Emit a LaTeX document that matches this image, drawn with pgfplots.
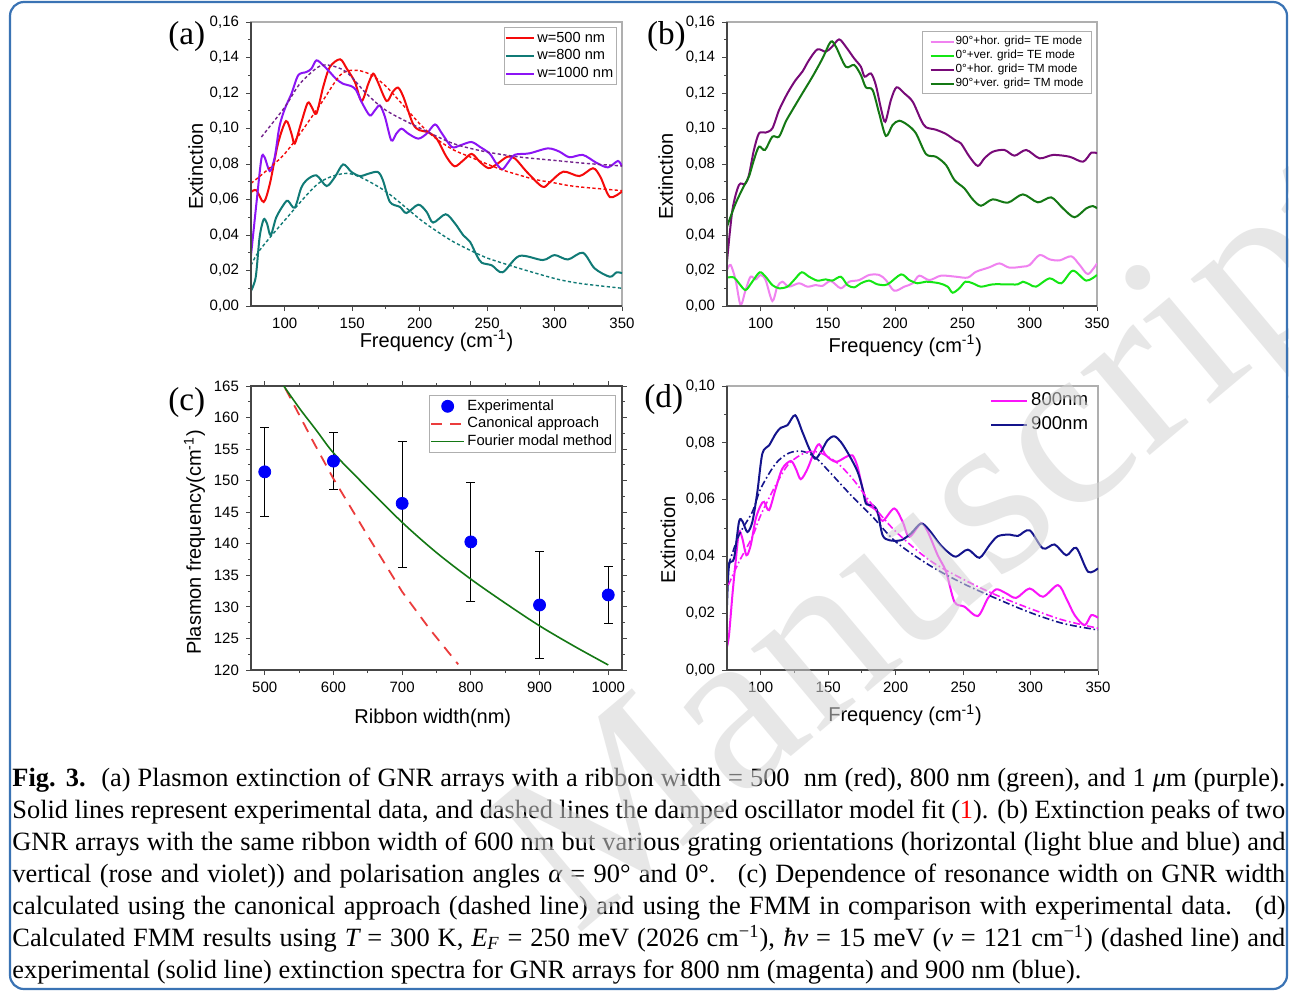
\documentclass[border=0pt]{standalone}
\usepackage{pgfplots}
\pgfplotsset{compat=1.18}
\usepackage{fontspec}
\setmainfont{Liberation Sans}
\newfontfamily\serif{Liberation Serif}
\definecolor{fblue}{RGB}{58,115,180}
\definecolor{cred}{RGB}{245,10,10}
\definecolor{cteal}{RGB}{16,122,118}
\definecolor{cviol}{RGB}{140,20,245}
\definecolor{cviold}{RGB}{115,35,140}
\definecolor{cpink}{RGB}{240,130,240}
\definecolor{cbgreen}{RGB}{20,230,20}
\definecolor{cdpurp}{RGB}{120,10,120}
\definecolor{cdgreen}{RGB}{20,120,20}
\definecolor{cblue}{RGB}{0,0,250}
\definecolor{cdred}{RGB}{235,60,60}
\definecolor{cmag}{RGB}{250,20,250}
\definecolor{cnavy}{RGB}{20,20,140}
\definecolor{axdark}{RGB}{70,70,70}
\definecolor{axlight}{RGB}{175,175,175}
\definecolor{wm}{RGB}{212,212,212}
\pgfplotsset{
  panel/.style={
    scale only axis, width=185.5pt, height=142pt, anchor=south west,
    axis line style={axlight, line width=0.6pt},
    tick align=outside, tick pos=left,
    major tick length=2.5pt, minor tick length=1.5pt,
    tick style={axdark, line width=0.5pt},
    tick label style={font=\fontsize{7.5}{9}\selectfont},
    label style={font=\fontsize{10}{12}\selectfont},
    /pgf/number format/assume math mode=true,
    legend cell align=left,
    after end axis/.code={\draw[axdark, line width=0.7pt] (rel axis cs:0,1) -- (rel axis cs:0,0) -- (rel axis cs:1,0);},
  },
  freq/.style={xmin=75, xmax=350, xtick={100,150,200,250,300,350}, minor x tick num=1, minor y tick num=1,
    yticklabel style={/pgf/number format/.cd, fixed, fixed zerofill, precision=2, use comma}},
  sol/.style={line width=1pt, smooth},
  fit/.style={line width=0.7pt, smooth, dash pattern=on 1.6pt off 1.2pt, forget plot},
  dfit/.style={line width=0.8pt, smooth, dash pattern=on 3.5pt off 1.4pt on 0.8pt off 1.4pt, forget plot},
  dotleg/.style={legend image code/.code={\fill[cblue] (8.25pt,0pt) circle (3pt);}},
}
\begin{document}
\begin{tikzpicture}
\useasboundingbox (0,0) rectangle (644.5pt,-495.5pt);
\fill[white] (0,0) rectangle (644.5pt,-495.5pt);

% ---------------- (a)
\begin{axis}[panel, freq, at={(125.5pt,-153pt)},
  ymin=0, ymax=0.16, ytick={0,0.02,0.04,0.06,0.08,0.10,0.12,0.14,0.16},
  xlabel={Frequency (cm\textsuperscript{-1})}, ylabel={Extinction},
  xlabel style={at={(axis description cs:0.5,-0.1444)}, anchor=base},
  ylabel style={at={(axis description cs:-0.1294,0.491)}, anchor=base},
  legend image code/.code={\draw[#1] (0pt,0pt) -- (14pt,0pt);},
  legend style={at={(0.9865,0.982)}, anchor=north east, draw=axlight, fill=white,
    font=\fontsize{7.3}{8}\selectfont, inner xsep=0.5pt, inner ysep=1pt, row sep=0pt,
    nodes={inner xsep=1.2pt, inner ysep=0.8pt, text height=5.6pt, text depth=1.6pt}},
]
\addplot[cred, sol] coordinates {(75,0.0642) (79,0.0652) (84.4,0.0586) (89,0.0689) (95,0.0915) (101,0.1042) (105,0.0971) (107.4,0.0915) (112,0.1027) (117,0.1144) (120,0.1121) (123.5,0.1084) (128.5,0.1234) (133.4,0.1346) (141,0.1390) (146,0.1337) (152,0.1262) (157,0.1155) (162,0.1253) (165.6,0.1309) (169,0.1262) (175.5,0.1155) (180,0.1206) (184,0.1230) (188,0.1177) (195,0.1027) (200,0.0990) (206,0.0980) (212.6,0.0943) (220,0.0839) (226,0.0787) (232.4,0.0821) (238.6,0.0857) (244.8,0.0811) (251,0.0777) (257,0.0798) (265,0.0841) (270.8,0.0830) (279.5,0.0755) (291,0.0672) (296.8,0.0699) (306.5,0.0757) (318.5,0.0732) (328.5,0.0776) (334,0.0727) (341,0.0614) (350,0.0645)};
\addlegendentry{w=500 nm}
\addplot[cteal, sol] coordinates {(75,0.0085) (78.5,0.0163) (81.4,0.0389) (84.4,0.0488) (86.9,0.0464) (89.6,0.0398) (93.8,0.0501) (100,0.058) (102.5,0.0592) (107.4,0.0554) (112,0.0661) (116,0.0708) (123.5,0.0736) (131,0.0676) (137.2,0.0727) (143.3,0.0798) (149.5,0.0755) (155.7,0.0732) (161.9,0.0745) (169,0.0755) (172.8,0.0708) (178,0.0586) (185.4,0.0558) (190.3,0.0524) (199,0.0571) (205.2,0.0530) (210,0.0470) (219.3,0.0517) (226.3,0.0464) (232.4,0.0398) (237.4,0.0361) (242.3,0.0285) (246,0.0244) (253.5,0.0229) (261.5,0.0190) (273.9,0.0282) (291.3,0.0259) (300,0.0287) (309.9,0.0262) (321,0.0300) (329.7,0.0212) (340.9,0.0165) (346,0.0190) (350,0.0185)};
\addlegendentry{w=800 nm}
\addplot[cviol, sol] coordinates {(75,0.0285) (79,0.0577) (82.7,0.0830) (85,0.0839) (89,0.0760) (92.6,0.0839) (96,0.1008) (100,0.1110) (105,0.1196) (110,0.1300) (116,0.1318) (119.8,0.1337) (123.5,0.1384) (128.5,0.1356) (133.4,0.1318) (138,0.1280) (143,0.1253) (149.5,0.1238) (153,0.1215) (157,0.1149) (163,0.1074) (166.8,0.1102) (170.5,0.1130) (174.3,0.1065) (179,0.0933) (182.7,0.0971) (186.6,0.0999) (191.6,0.0971) (199,0.0943) (205.2,0.0971) (211.4,0.1023) (216.3,0.0975) (223.8,0.0896) (230,0.0905) (238.3,0.0924) (244.8,0.0896) (252,0.0858) (256.9,0.0802) (261.3,0.0770) (265.8,0.0811) (270.5,0.0852) (281.3,0.0860) (295,0.0888) (303.5,0.0870) (311.1,0.0838) (321,0.0851) (331,0.0807) (339.6,0.0781) (347,0.0817) (350,0.0785)};
\addlegendentry{w=1000 nm}
\addplot[cred, fit] coordinates {(75,0.0691) (100,0.0858) (125,0.1120) (141,0.1300) (151,0.1328) (162,0.1310) (175.5,0.1234) (200,0.1027) (212,0.0944) (225,0.0880) (237,0.0841) (250,0.0800) (261.5,0.0766) (275,0.0735) (286,0.0712) (299,0.0695) (311,0.0678) (324,0.0667) (350,0.0650)};
\addplot[cviold, fit] coordinates {(82.7,0.0952) (100,0.1120) (111,0.1250) (124.7,0.1346) (133.4,0.1356) (145.8,0.1318) (160.6,0.1196) (175.5,0.1100) (200,0.1003) (225,0.0915) (249,0.0869) (274.5,0.0839) (299,0.0821) (324,0.0803) (350,0.0789)};
\addplot[cteal, fit] coordinates {(75,0.0229) (81.4,0.0314) (100,0.0483) (124.7,0.0689) (143.3,0.0746) (155.7,0.0727) (175.5,0.0642) (200,0.0490) (212,0.0425) (225,0.0362) (242,0.0297) (250,0.0270) (274,0.0212) (299,0.0157) (311,0.0137) (324,0.0122) (350,0.0100)};
\end{axis}

% ---------------- (b)
\begin{axis}[panel, freq, at={(363.5pt,-153pt)}, width=185pt,
  ymin=0, ymax=0.16, ytick={0,0.02,0.04,0.06,0.08,0.10,0.12,0.14,0.16},
  xlabel={Frequency (cm\textsuperscript{-1})}, ylabel={Extinction},
  xlabel style={at={(axis description cs:0.482,-0.162)}, anchor=base},
  ylabel style={at={(axis description cs:-0.146,0.456)}, anchor=base},
  legend image code/.code={\draw[#1] (0pt,0pt) -- (11.5pt,0pt);},
  legend style={at={(0.986,0.968)}, anchor=north east, draw=axlight, fill=white,
    font=\fontsize{5.9}{6.5}\selectfont, inner xsep=3.5pt, inner ysep=1.6pt, row sep=0pt,
    nodes={inner xsep=0.5pt, inner ysep=0.6pt, text height=4.5pt, text depth=1.3pt}},
]
\addplot[cpink, sol] coordinates {(75,0.0203) (77.7,0.0231) (81.4,0.0146) (85.1,0.0006) (88.8,0.0090) (92.5,0.0165) (96.3,0.0150) (100,0.0175) (103.7,0.0146) (108.7,0.0028) (112.4,0.0109) (116.1,0.0137) (121,0.0109) (128.5,0.0128) (134.8,0.0109) (141,0.0118) (145.9,0.0113) (152.1,0.0141) (159.6,0.0100) (165.8,0.0137) (173.2,0.0146) (180.7,0.0175) (188.1,0.0175) (193.1,0.0146) (199.3,0.0086) (206.8,0.0109) (213,0.0128) (217.9,0.0171) (225.4,0.0146) (234.1,0.0171) (245.2,0.0165) (253.9,0.0160) (260.1,0.0193) (270,0.0218) (277.5,0.0240) (284.9,0.0216) (294.9,0.0222) (299.9,0.0231) (307.3,0.0287) (314.7,0.0263) (322.2,0.0257) (330.9,0.0280) (337.1,0.0231) (343.3,0.0180) (350,0.0240)};
\addlegendentry{90°+hor. grid= TE mode}
\addplot[cbgreen, sol] coordinates {(75,0.0160) (80.1,0.0161) (83.9,0.0128) (88.8,0.0090) (93.8,0.0137) (99.3,0.0190) (103.7,0.0165) (108.7,0.0118) (113.7,0.0100) (119.9,0.0109) (124.8,0.0146) (130.5,0.0190) (136,0.0165) (142.2,0.0143) (148.4,0.0150) (153.3,0.0143) (159.6,0.0165) (164.5,0.0118) (169.5,0.0105) (174.5,0.0128) (180.7,0.0143) (186.9,0.0122) (194.3,0.0122) (204.3,0.0178) (210.5,0.0146) (216.7,0.0128) (222.9,0.0137) (232.8,0.0128) (239,0.0109) (242.7,0.0075) (247.7,0.0100) (252.2,0.0137) (257.6,0.0128) (263.8,0.0109) (272.5,0.0122) (282.5,0.0122) (291.1,0.0122) (294.9,0.0137) (299.9,0.0122) (304.8,0.0109) (314.7,0.0156) (323.4,0.0128) (332.1,0.0199) (342,0.0143) (350,0.0175)};
\addlegendentry{0°+ver. grid= TE mode}
\addplot[cdpurp, sol] coordinates {(75,0.0250) (79,0.0540) (83.9,0.0682) (88.3,0.0687) (91.3,0.0738) (95,0.0879) (98.8,0.0973) (103.7,0.0977) (108.7,0.1001) (113.7,0.1104) (119.9,0.1198) (126,0.1273) (131,0.1320) (136,0.1386) (142.2,0.1446) (148.4,0.1433) (153,0.1460) (158.3,0.1502) (163.3,0.1461) (169.5,0.1395) (174.5,0.1348) (177.3,0.1292) (182,0.1310) (185.6,0.1245) (189.4,0.1114) (192.6,0.1038) (196.8,0.1160) (201,0.1232) (206.8,0.1198) (213,0.1151) (219.2,0.1048) (222.9,0.1007) (230.3,0.0993) (237.8,0.0969) (245.2,0.0931) (248.9,0.0916) (255.2,0.0841) (261.4,0.0789) (266.3,0.0832) (272.5,0.0869) (281.2,0.0879) (288.7,0.0847) (297.4,0.0879) (307.3,0.0832) (317.2,0.0851) (329.6,0.0841) (339.6,0.0813) (345.8,0.0864) (350,0.0860)};
\addlegendentry{0°+hor. grid= TM mode}
\addplot[cdgreen, sol] coordinates {(75,0.0447) (81.4,0.0578) (87.6,0.0676) (91.3,0.0729) (95,0.0823) (98.8,0.0898) (103.2,0.0879) (108.7,0.0954) (113.7,0.0954) (118.6,0.1038) (123.6,0.1104) (131,0.1198) (138.5,0.1292) (146,0.1395) (152.1,0.1489) (155.9,0.1461) (163.3,0.1348) (169.5,0.1358) (174.5,0.1301) (178.2,0.1232) (183.2,0.1217) (188.1,0.1085) (193.1,0.0958) (198.1,0.1020) (203,0.1044) (209.2,0.1020) (215.4,0.0973) (222.9,0.0856) (230.3,0.0841) (237.8,0.0794) (244,0.0710) (251.4,0.0663) (257.6,0.0601) (263.8,0.0565) (272.5,0.0601) (283.7,0.0582) (294.9,0.0629) (306,0.0584) (316,0.0612) (324.7,0.0550) (333.3,0.0500) (342,0.0550) (347,0.0563) (350,0.0550)};
\addlegendentry{90°+ver. grid= TM mode}
\end{axis}

% ---------------- (c)
\begin{axis}[panel, at={(125.5pt,-335pt)}, tick pos=both,
  axis line style={axdark},
  xmin=480, xmax=1020, ymin=120, ymax=165,
  xtick={500,600,700,800,900,1000}, minor x tick num=1,
  ytick={120,125,130,135,140,145,150,155,160,165}, minor y tick num=1,
  xticklabel style={/pgf/number format/1000 sep={}},
  xlabel={Ribbon width(nm)}, ylabel={Plasmon frequency(cm\textsuperscript{-1})},
  xlabel style={at={(axis description cs:0.49,-0.1866)}, anchor=base},
  ylabel style={at={(axis description cs:-0.1348,0.449)}, anchor=base},
  legend image code/.code={\draw[#1] (0pt,0pt) -- (16.5pt,0pt);},
  legend style={at={(0.984,0.968)}, anchor=north east, draw=axlight, fill=white,
    font=\fontsize{7.4}{8}\selectfont, inner xsep=0.5pt, inner ysep=1pt, row sep=0pt,
    nodes={inner xsep=1.2pt, inner ysep=0.8pt, text height=5.6pt, text depth=1.6pt}},
]
\addplot[only marks, mark=*, mark size=3pt, cblue, dotleg,
  error bars/.cd, y dir=both, y explicit,
  error bar style={black, line width=0.5pt}, error mark options={black, mark size=2.2pt, rotate=90}]
  coordinates {(500,151.4) += (0,7.0) -= (0,7.1)
               (600,153.1) += (0,4.5) -= (0,4.5)
               (700,146.4) += (0,9.9) -= (0,10.1)
               (800,140.3) += (0,9.5) -= (0,9.5)
               (900,130.3) += (0,8.5) -= (0,8.5)
               (1000,131.9) += (0,4.5) -= (0,4.5)};
\addlegendentry{Experimental}
\addplot[cdred, line width=0.9pt, dash pattern=on 5.5pt off 4pt]
  coordinates {(530,164.6) (538.8,162.8) (570,156.3) (599.5,150.4) (648,141.6) (700,132.4) (740,126.5) (781.6,120.9)};
\addlegendentry{Canonical approach}
\addplot[cdgreen, line width=0.8pt, smooth]
  coordinates {(527.7,165) (551,161.4) (575,158.0) (600,154.4) (640,149.9) (700,143.4) (750,138.6) (800,134.4) (850,130.6) (900,127.0) (950,123.8) (1000,120.8)};
\addlegendentry{Fourier modal method}
\end{axis}

% ---------------- (d)
\begin{axis}[panel, freq, at={(363.5pt,-335pt)},
  ymin=0, ymax=0.10, ytick={0,0.02,0.04,0.06,0.08,0.10},
  xlabel={Frequency (cm\textsuperscript{-1})}, ylabel={Extinction},
  xlabel style={at={(axis description cs:0.48,-0.183)}, anchor=base},
  ylabel style={at={(axis description cs:-0.140,0.458)}, anchor=base},
  legend image code/.code={\draw[#1] (0pt,0pt) -- (18pt,0pt);},
  legend style={at={(0.985,0.995)}, anchor=north east, draw=none, fill=white,
    font=\fontsize{9.3}{10}\selectfont, inner xsep=0.5pt, inner ysep=0.5pt, row sep=0pt,
    nodes={inner xsep=1.5pt, inner ysep=1.5pt, text height=7pt, text depth=2pt}},
]
\addplot[cmag, sol] coordinates {(75,0.0082) (76.5,0.0123) (79,0.0264) (81.4,0.0381) (83.9,0.0486) (86.4,0.0463) (89.4,0.0404) (92.6,0.0440) (96.3,0.0533) (100,0.0580) (102.5,0.0592) (106.2,0.0563) (111.1,0.0639) (116,0.0709) (122.3,0.0736) (126,0.0709) (129.7,0.0672) (134.7,0.0709) (139.6,0.0768) (143.3,0.0795) (148.3,0.0756) (155.7,0.0733) (163.1,0.0750) (168,0.0756) (171.8,0.0715) (175.5,0.0639) (179.2,0.0586) (185.4,0.0563) (190.3,0.0525) (199,0.0569) (205.2,0.0522) (210.1,0.0469) (218.8,0.0516) (223.8,0.0487) (231.2,0.0404) (237.4,0.0346) (243.6,0.0240) (251,0.0223) (260.9,0.0190) (268.3,0.0252) (274.5,0.0284) (281.9,0.0270) (289.4,0.0254) (299.3,0.0287) (309.2,0.0258) (320.3,0.0299) (326.5,0.0252) (332.7,0.0193) (340.1,0.0158) (345,0.0193) (350,0.0184)};
\addlegendentry{800nm}
\addplot[cnavy, sol] coordinates {(75,0.0229) (76.5,0.0369) (80.2,0.0393) (83.9,0.0522) (86.4,0.0524) (90.1,0.0486) (93.8,0.0522) (97.5,0.0627) (101.2,0.0762) (106.2,0.0791) (111.1,0.0832) (114.9,0.0853) (119.8,0.0862) (125.5,0.0897) (130.9,0.0838) (135.9,0.0780) (140.3,0.0744) (144.6,0.0768) (149.5,0.0809) (154.5,0.0823) (159.4,0.0803) (165.6,0.0756) (171.8,0.0698) (175.5,0.0639) (178,0.0586) (183,0.0580) (186.6,0.0557) (190.3,0.0475) (195.3,0.0457) (204,0.0457) (211.4,0.0481) (218.8,0.0516) (225,0.0492) (232.4,0.0445) (238.6,0.0416) (244.8,0.0399) (253.5,0.0424) (262.1,0.0395) (269.6,0.0440) (275.7,0.0471) (284.4,0.0477) (290.6,0.0472) (299.3,0.0492) (309.2,0.0428) (317.8,0.0442) (326.5,0.0404) (333.9,0.0430) (342.6,0.0346) (350,0.0358)};
\addlegendentry{900nm}
\addplot[cnavy, dfit] coordinates {(76,0.0369) (83.9,0.0475) (93.8,0.0557) (100,0.0639) (111.1,0.0727) (121,0.0764) (130.9,0.0770) (140.8,0.0747) (153.2,0.0686) (168,0.0610) (183,0.0539) (200.2,0.0451) (225,0.0369) (249.8,0.0305) (274.5,0.0252) (299.3,0.0203) (324,0.0164) (350,0.0141)};
\addplot[cmag, dfit] coordinates {(76,0.0299) (83.9,0.0381) (93.8,0.0469) (100,0.0545) (111.1,0.0651) (121,0.0727) (133.4,0.0766) (143.3,0.0766) (155.7,0.0733) (168,0.0674) (183,0.0580) (200.2,0.0487) (225,0.0387) (249.8,0.0320) (274.5,0.0264) (299.3,0.0217) (324,0.0176) (350,0.0147)};
\end{axis}

% panel letters
\begin{scope}[every node/.style={anchor=base west, inner sep=0pt, font=\serif\fontsize{16.6}{18}\selectfont}]
\node at (84pt,-22.2pt) {(a)};
\node at (323.3pt,-22.4pt) {(b)};
\node at (84pt,-205.4pt) {(c)};
\node at (322pt,-203.9pt) {(d)};
\end{scope}

% caption
\begin{scope}[every node/.style={anchor=base west, inner sep=0pt, font=\serif\fontsize{13.2}{16}\selectfont}]
\node at (6pt,-393pt) {\hbox to 636.5pt{\textbf{Fig. 3.}\hspace{0.2em} (a) Plasmon extinction of GNR arrays with a ribbon width = 500 \ nm (red), 800 nm (green), and 1 {\itshape μ}m (purple).}};
\node at (6pt,-409pt) {\hbox to 636.5pt{Solid lines represent experimental data, and dashed lines the damped oscillator model fit (\textcolor{red}{1}). (b) Extinction peaks of two}};
\node at (6pt,-425pt) {\hbox to 636.5pt{GNR arrays with the same ribbon width of 600 nm but various grating orientations (horizontal (light blue and blue) and}};
\node at (6pt,-441pt) {\hbox to 636.5pt{vertical (rose and violet)) and polarisation angles {\itshape α} = 90° and 0°. \ (c) Dependence of resonance width on GNR width}};
\node at (6pt,-457pt) {\hbox to 636.5pt{calculated using the canonical approach (dashed line) and using the FMM in comparison with experimental data. \ (d)}};
\node at (6pt,-473pt) {\hbox to 636.5pt{Calculated FMM results using {\itshape T} = 300 K, {\itshape E}\textsubscript{\itshape F} = 250 meV (2026 cm\textsuperscript{−1}), {\itshape ħν} = 15 meV ({\itshape ν} = 121 cm\textsuperscript{−1}) (dashed line) and}};
\node at (6pt,-489pt) {experimental (solid line) extinction spectra for GNR arrays for 800 nm (magenta) and 900 nm (blue).};
\end{scope}

% watermark
\begin{scope}
\clip (0,0) rectangle (644.5pt,-495.5pt);
\node[rotate=40, anchor=base west, inner sep=0pt, text=wm, opacity=0.55, font=\serif\fontsize{117.5}{118}\selectfont] at (288pt,-468.3pt) {Manuscript};
\end{scope}

% frame
\draw[fblue, line width=1.1pt, rounded corners=7pt] (5pt,-1pt) rectangle (643.5pt,-494.5pt);
\end{tikzpicture}
\end{document}
